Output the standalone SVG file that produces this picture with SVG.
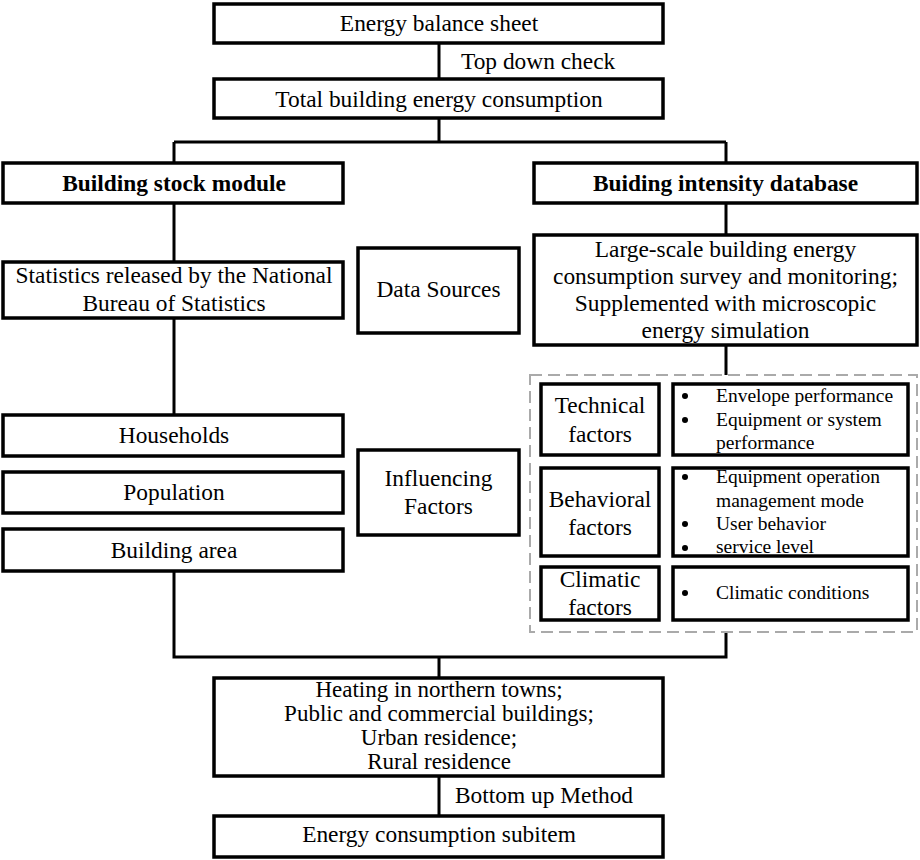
<svg xmlns="http://www.w3.org/2000/svg" width="920" height="860" viewBox="0 0 920 860">
<style>
.box{fill:#fff;stroke:#000;stroke-width:3.5}
.ln{fill:none;stroke:#000;stroke-width:3}
.t{font-family:"Liberation Serif","Times New Roman",serif;font-size:23.4px;fill:#000;text-anchor:middle}
.b{font-weight:bold}
.h{font-size:23px}
.s{font-family:"Liberation Serif","Times New Roman",serif;font-size:19.5px;fill:#000}
.dash{fill:none;stroke:#aaa;stroke-width:2;stroke-dasharray:12 6}
</style>
<rect width="920" height="860" fill="#fff"/>
<g id="connectors">
<path class="ln" d="M439 43V78M439 118V142M174 142H726M174 142V163M726 142V163M174 203V262M726 203V235M174 318V415M726 345V375M174 571V657H726V632M439 657V678M439 776V816"/>
<text class="t" x="461" y="69" style="text-anchor:start">Top down check</text>
<text class="t" x="455" y="803" style="text-anchor:start">Bottom up Method</text>
</g>
<g id="energy-balance"><rect class="box" x="214" y="4" width="449" height="39"/><text class="t" x="439" y="31">Energy balance sheet</text></g>
<g id="total"><rect class="box" x="214" y="79" width="449" height="39"/><text class="t" x="439" y="107">Total building energy consumption</text></g>
<g id="stock"><rect class="box" x="3" y="163" width="340" height="40"/><text class="t b" x="174" y="191">Building stock module</text></g>
<g id="intensity"><rect class="box" x="534" y="163" width="383" height="40"/><text class="t b" x="725.5" y="191">Buiding intensity database</text></g>
<g id="statistics"><rect class="box" x="3" y="262" width="340" height="56"/><text class="t" x="174" y="283">Statistics released by the National</text><text class="t" x="174" y="311">Bureau of Statistics</text></g>
<g id="data-sources"><rect class="box" x="358" y="248" width="161" height="85"/><text class="t" x="438.5" y="297">Data Sources</text></g>
<g id="survey"><rect class="box" x="534" y="235" width="383" height="110"/><text class="t" x="725.5" y="257">Large-scale building energy</text><text class="t" x="725.5" y="284">consumption survey and monitoring;</text><text class="t" x="725.5" y="311">Supplemented with microscopic</text><text class="t" x="725.5" y="338">energy simulation</text></g>
<g id="households"><rect class="box" x="3" y="415" width="340" height="41"/><text class="t" x="174" y="443">Households</text></g>
<g id="population"><rect class="box" x="3" y="472" width="340" height="41"/><text class="t" x="174" y="500">Population</text></g>
<g id="building-area"><rect class="box" x="3" y="529" width="340" height="42"/><text class="t" x="174" y="558">Building area</text></g>
<g id="influencing"><rect class="box" x="358" y="450" width="161" height="85"/><text class="t" x="438.5" y="486">Influencing</text><text class="t" x="438.5" y="514">Factors</text></g>
<g id="factors-group"><rect class="dash" x="530" y="375" width="387" height="257"/></g>
<g id="technical"><rect class="box" x="541" y="384" width="118" height="71"/><text class="t" x="600" y="413">Technical</text><text class="t" x="600" y="442">factors</text></g>
<g id="technical-items"><rect class="box" x="673" y="384" width="235" height="71"/>
<circle cx="685" cy="396" r="3"/><circle cx="685" cy="420" r="3"/>
<text class="s" x="716" y="402">Envelope performance</text><text class="s" x="716" y="426">Equipment or system</text><text class="s" x="716" y="449">performance</text></g>
<g id="behavioral"><rect class="box" x="541" y="468" width="118" height="88"/><text class="t" x="600" y="507">Behavioral</text><text class="t" x="600" y="535">factors</text></g>
<g id="behavioral-items"><rect class="box" x="673" y="468" width="235" height="88"/>
<circle cx="685" cy="477" r="3"/><circle cx="685" cy="524" r="3"/><circle cx="685" cy="548" r="3"/>
<text class="s" x="716" y="483">Equipment operation</text><text class="s" x="716" y="507">management mode</text><text class="s" x="716" y="530">User behavior</text><text class="s" x="716" y="553">service level</text></g>
<g id="climatic"><rect class="box" x="541" y="567" width="118" height="53"/><text class="t" x="600" y="587">Climatic</text><text class="t" x="600" y="615">factors</text></g>
<g id="climatic-items"><rect class="box" x="673" y="567" width="235" height="53"/>
<circle cx="685" cy="593" r="3"/><text class="s" x="716" y="599">Climatic conditions</text></g>
<g id="categories"><rect class="box" x="214" y="678" width="449" height="98"/><text class="t h" x="439" y="697">Heating in northern towns;</text><text class="t h" x="439" y="721">Public and commercial buildings;</text><text class="t h" x="439" y="745">Urban residence;</text><text class="t h" x="439" y="769">Rural residence</text></g>
<g id="subitem"><rect class="box" x="214" y="816" width="449" height="41"/><text class="t" x="439" y="842">Energy consumption subitem</text></g>
</svg>
